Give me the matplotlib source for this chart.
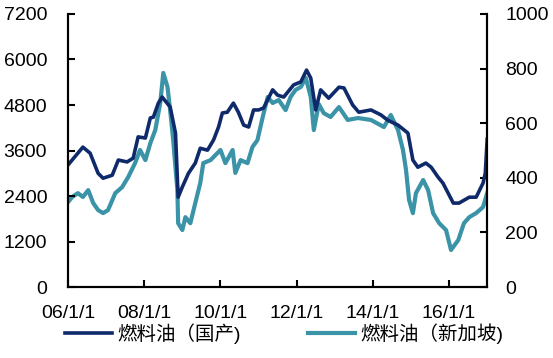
import matplotlib
matplotlib.use("Agg")
import matplotlib.pyplot as plt

plt.rcParams['font.family'] = ['Liberation Sans', 'Noto Sans CJK SC', 'DejaVu Sans']

# 燃料油（国产）, 元/吨, left axis
cn_t = [2006.0, 2006.39, 2006.58, 2006.79, 2006.92, 2007.16, 2007.32, 2007.55, 2007.71,
        2007.84, 2008.03, 2008.16, 2008.24, 2008.37, 2008.47, 2008.68, 2008.82, 2008.89,
        2009.0, 2009.16, 2009.34, 2009.47, 2009.66, 2009.82, 2009.95, 2010.05, 2010.18,
        2010.34, 2010.47, 2010.61, 2010.74, 2010.87, 2011.0, 2011.13, 2011.37, 2011.5,
        2011.66, 2011.92, 2012.11, 2012.26, 2012.37, 2012.5, 2012.63, 2012.84, 2013.11,
        2013.24, 2013.47, 2013.63, 2013.95, 2014.21, 2014.39, 2014.66, 2014.92, 2015.05,
        2015.18, 2015.39, 2015.53, 2015.71, 2015.84, 2016.11, 2016.26, 2016.53, 2016.71,
        2016.89, 2016.95, 2017.0]
cn_v = [3220, 3690, 3530, 3000, 2870, 2950, 3350, 3300, 3400,
        3960, 3930, 4460, 4480, 4850, 5010, 4750, 4060, 2370,
        2640, 3000, 3270, 3660, 3610, 3880, 4220, 4590, 4610,
        4850, 4610, 4270, 4220, 4670, 4670, 4720, 5200, 5060,
        5010, 5330, 5410, 5720, 5510, 4670, 5200, 4980, 5270,
        5250, 4800, 4610, 4670, 4540, 4400, 4270, 4060, 3350,
        3160, 3270, 3160, 2900, 2740, 2215, 2215, 2370, 2370,
        2740, 3000, 3900]

# 燃料油（新加坡）, 美元/吨, right axis
sg_t = [2006.0, 2006.11, 2006.26, 2006.39, 2006.53, 2006.66, 2006.79, 2006.92, 2007.05,
        2007.24, 2007.42, 2007.58, 2007.76, 2007.89, 2008.03, 2008.16, 2008.29, 2008.42,
        2008.5, 2008.61, 2008.68, 2008.76, 2008.87, 2008.89, 2009.0, 2009.08, 2009.21,
        2009.34, 2009.47, 2009.55, 2009.74, 2010.0, 2010.13, 2010.32, 2010.39, 2010.53,
        2010.71, 2010.84, 2010.97, 2011.11, 2011.24, 2011.37, 2011.53, 2011.71, 2011.84,
        2011.97, 2012.11, 2012.24, 2012.37, 2012.45, 2012.58, 2012.71, 2012.89, 2013.11,
        2013.34, 2013.61, 2013.95, 2014.29, 2014.47, 2014.66, 2014.79, 2014.87, 2014.95,
        2015.05, 2015.13, 2015.32, 2015.45, 2015.58, 2015.74, 2015.92, 2016.05, 2016.24,
        2016.39, 2016.53, 2016.71, 2016.89, 2017.0]
sg_v = [311, 330, 344, 330, 355, 308, 282, 271, 282,
        344, 366, 403, 454, 502, 465, 527, 575, 674,
        784, 733, 648, 538, 355, 234, 209, 256, 234,
        308, 381, 454, 465, 502, 454, 502, 418, 465,
        454, 513, 538, 623, 696, 674, 685, 648, 696,
        722, 733, 766, 696, 575, 670, 637, 623, 659,
        612, 619, 612, 586, 630, 575, 502, 429, 319,
        271, 344, 392, 355, 271, 234, 209, 136, 172,
        234, 256, 271, 293, 344]

year_ticks = [2006, 2008, 2010, 2012, 2014, 2016]
year_labels = ["06/1/1", "08/1/1", "10/1/1", "12/1/1", "14/1/1", "16/1/1"]

navy = "#0F2A6B"
teal = "#3A93A7"

fig = plt.figure(figsize=(5.53, 3.58), dpi=100)
ax = fig.add_axes([0.123, 0.198, 0.758, 0.763])
ax2 = ax.twinx()

l1, = ax.plot(cn_t, cn_v, color=navy, lw=2.6, label="燃料油（国产)")
l2, = ax2.plot(sg_t, sg_v, color=teal, lw=3.0, label="燃料油（新加坡)")
ax.set_zorder(ax2.get_zorder() + 1)
ax.patch.set_visible(False)

ax.set_xlim(2006, 2017)
ax.set_ylim(0, 7200)
ax2.set_ylim(0, 1000)
ax.set_yticks(range(0, 7201, 1200))
ax2.set_yticks(range(0, 1001, 200))
ax.set_xticks(year_ticks)
ax.set_xticklabels(year_labels)

for a in (ax, ax2):
    a.spines['top'].set_visible(False)
    for s in a.spines.values():
        s.set_linewidth(1.5)
ax.tick_params(axis='both', direction='in', length=5, width=1.5, labelsize=14, pad=13)
ax.tick_params(axis='y', pad=15)
ax2.tick_params(axis='y', direction='in', length=5, width=1.5, labelsize=14, pad=13)

fig.legend(handles=[l1, l2], loc='lower center', bbox_to_anchor=(0.514, -0.01), ncol=2,
           frameon=False, fontsize=14, handlelength=2.4, handletextpad=0.3, columnspacing=3.45)

fig.savefig("out.png", dpi=100)
